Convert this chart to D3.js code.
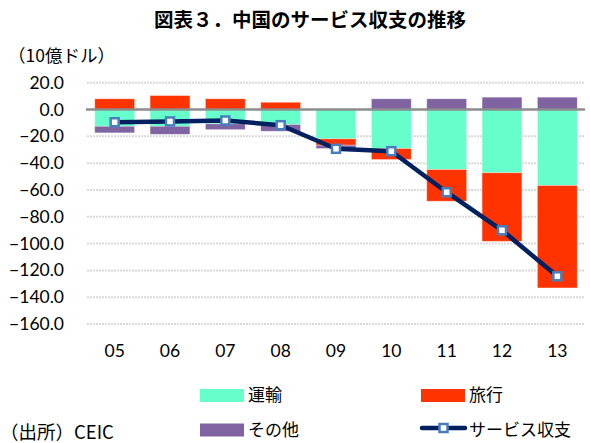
<!DOCTYPE html>
<html>
<head>
<meta charset="utf-8">
<script src="https://cdn.jsdelivr.net/npm/d3@7"></script>
<style>
  body { margin: 0; background: #fff; }
  text { fill: #000; }
</style>
</head>
<body>
<div id="chart-area"></div>
<script>
const years = ['05', '06', '07', '08', '09', '10', '11', '12', '13']
const transport = [-12.5, -12.5, -10.7, -11.2, -21.9, -29.1, -44.8, -47.2, -56.7]
const travel = [8.0, 10.4, 8.0, 5.4, -4.7, -8.2, -23.6, -51.1, -76.4]
const other = [-4.9, -6.0, -4.3, -5.0, -2.5, 8.0, 8.0, 9.2, 9.2]
const balance = [-9.5, -8.9, -8.2, -11.7, -29.3, -31.1, -61.7, -90.1, -124.4]
const yTicks = [20, 0, -20, -40, -60, -80, -100, -120, -140, -160]

const seriesNames = ['運輸', '旅行', 'その他']
const colors = ['#66FFCC', '#FF3300', '#8064A2']
const lineColor = '#002060'
const markerColor = '#4A7EBB'

const W = 590, H = 443
const margin = { left: 87, right: 5, top: 82.7, bottom: 119 }
const width = W - margin.left - margin.right
const height = H - margin.top - margin.bottom

const latin = 'Lato, "Noto Sans CJK JP", sans-serif'
const cjk = '"Noto Sans CJK JP", sans-serif'

const svg = d3.select('#chart-area').append('svg')
    .attr('width', W)
    .attr('height', H)

const g = svg.append('g')
    .attr('transform', `translate(${margin.left}, ${margin.top})`)

const xScale = d3.scaleBand()
    .domain(years)
    .range([0, width])
    .paddingInner(0.28)
    .paddingOuter(0.14)

const yScale = d3.scaleLinear()
    .domain([-160, 20])
    .range([height, 0])

// gridlines
g.append('g')
    .selectAll('line')
    .data(yTicks.filter(t => t !== 0))
    .enter().append('line')
    .attr('x1', 0)
    .attr('x2', width)
    .attr('y1', d => yScale(d))
    .attr('y2', d => yScale(d))
    .attr('stroke', '#d9d9d9')
    .attr('stroke-width', 2)
    .attr('stroke-dasharray', '2,1')

// y axis labels
const yAxisCall = d3.axisLeft(yScale)
    .tickValues(yTicks)
    .tickFormat(d3.format('.1f'))
    .tickSize(0)
    .tickPadding(23)
const yAxisGroup = g.append('g').call(yAxisCall)
yAxisGroup.select('.domain').remove()
yAxisGroup.selectAll('text')
    .attr('font-family', latin)
    .attr('font-size', '17.5px')
    .attr('fill', '#000')

// stacked bars
const rows = years.map((y, i) => ({ year: y, a: transport[i], b: travel[i], c: other[i] }))
const stack = d3.stack()
    .keys(['a', 'b', 'c'])
    .offset(d3.stackOffsetDiverging)
const stacked = stack(rows)

g.append('g')
    .selectAll('g')
    .data(stacked)
    .enter().append('g')
    .attr('fill', (d, i) => colors[i])
    .selectAll('rect')
    .data(d => d)
    .enter().append('rect')
    .attr('x', d => xScale(d.data.year))
    .attr('width', xScale.bandwidth())
    .attr('y', d => yScale(Math.max(d[0], d[1])))
    .attr('height', d => Math.abs(yScale(d[0]) - yScale(d[1])))
    .attr('stroke', '#fff')
    .attr('stroke-opacity', 0.4)
    .attr('stroke-width', 0.8)

// zero line
g.append('line')
    .attr('x1', -1)
    .attr('x2', width)
    .attr('y1', yScale(0))
    .attr('y2', yScale(0))
    .attr('stroke', '#8c8c8c')
    .attr('stroke-width', 2.5)

// x axis labels
const xAxisCall = d3.axisBottom(xScale).tickSize(0).tickPadding(21)
const xAxisGroup = g.append('g')
    .attr('transform', `translate(0, ${height})`)
    .call(xAxisCall)
xAxisGroup.select('.domain').remove()
xAxisGroup.selectAll('text')
    .attr('font-family', latin)
    .attr('font-size', '17.5px')
    .attr('fill', '#000')

// balance line
const line = d3.line()
    .x((d, i) => xScale(years[i]) + xScale.bandwidth() / 2)
    .y(d => yScale(d))

g.append('path')
    .datum(balance)
    .attr('d', line)
    .attr('fill', 'none')
    .attr('stroke', lineColor)
    .attr('stroke-width', 4.5)
    .attr('stroke-linejoin', 'round')

g.append('g')
    .selectAll('rect')
    .data(balance)
    .enter().append('rect')
    .attr('x', (d, i) => xScale(years[i]) + xScale.bandwidth() / 2 - 4)
    .attr('y', d => yScale(d) - 4)
    .attr('width', 8)
    .attr('height', 8)
    .attr('fill', '#fff')
    .attr('stroke', markerColor)
    .attr('stroke-width', 2.5)

// title
svg.append('text')
    .attr('x', 310)
    .attr('y', 27)
    .attr('text-anchor', 'middle')
    .attr('font-family', cjk)
    .attr('font-weight', 'bold')
    .attr('font-size', '19.5px')
    .text('図表３．中国のサービス収支の推移')

svg.append('text')
    .attr('x', 8)
    .attr('y', 62)
    .attr('font-family', cjk)
    .attr('font-size', '17.5px')
    .text('（10億ドル）')

// legend
const legend = svg.append('g')
const legendItems = [
    { name: seriesNames[0], x: 200, y: 389, color: colors[0] },
    { name: seriesNames[1], x: 421, y: 389, color: colors[1] },
    { name: seriesNames[2], x: 200, y: 423.5, color: colors[2] }
]
legendItems.forEach(it => {
    legend.append('rect')
        .attr('x', it.x).attr('y', it.y)
        .attr('width', 44).attr('height', 13)
        .attr('fill', it.color)
    legend.append('text')
        .attr('x', it.x + 48).attr('y', it.y + 12)
        .attr('font-family', cjk)
        .attr('font-size', '17px')
        .text(it.name)
})
legend.append('line')
    .attr('x1', 422).attr('x2', 465)
    .attr('y1', 428).attr('y2', 428)
    .attr('stroke', lineColor)
    .attr('stroke-width', 4.5)
    .attr('stroke-linecap', 'round')
legend.append('rect')
    .attr('x', 439.5).attr('y', 424)
    .attr('width', 8).attr('height', 8)
    .attr('fill', '#fff')
    .attr('stroke', markerColor)
    .attr('stroke-width', 2.5)
legend.append('text')
    .attr('x', 469).attr('y', 435.5)
    .attr('font-family', cjk)
    .attr('font-size', '17px')
    .text('サービス収支')

// source
svg.append('text')
    .attr('x', 0)
    .attr('y', 439)
    .attr('font-family', cjk)
    .attr('font-size', '18.5px')
    .text('（出所）CEIC')
</script>
</body>
</html>
